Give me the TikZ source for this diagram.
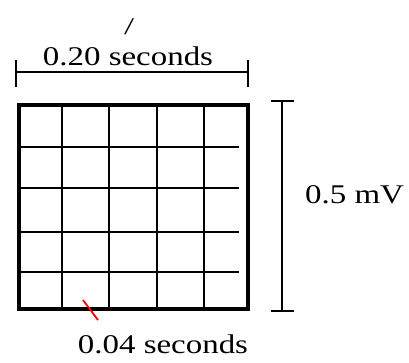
\documentclass[tikz,border=0pt]{standalone}
\usepackage{fontspec}
\setmainfont{Liberation Serif}
\newfontfamily\widefont[FakeStretch=1.22]{Liberation Serif}
\usetikzlibrary{positioning}

\begin{document}
\begin{tikzpicture}[x=1pt,y=-1pt,
    lbl/.style={inner sep=0pt,anchor=base,font=\widefont\fontsize{27}{29}\selectfont},
    thinline/.style={line width=1.8pt},
    marker/.style={red,line width=1.8pt}]
\useasboundingbox (0,0) rectangle (409,362);
% grid of small boxes
\foreach \x in {62,109,157,204}
  \draw[thinline] (\x,105) -- (\x,309);
\foreach \y in {147,188,232,272}
  \draw[thinline] (19,\y) -- (239,\y);
\draw[line width=3.6pt] (19,105) rectangle (248,309);

% time span on top
\coordinate (tl) at (16,72);
\coordinate (tr) at (248,72);
\draw[thinline] (tl) -- (tr);
\draw[thinline] (16,60) -- (16,87);
\draw[thinline] (248,60) -- (248,87);
\node[lbl] (total) at (128,65) {0.20 seconds};
\node[lbl,font=\bfseries\itshape\fontsize{24}{26}\selectfont] (mark) at (129,34) {/};

% voltage span on the right
\coordinate (vt) at (282,101);
\coordinate (vb) at (282,311);
\draw[thinline] (vt) -- (vb);
\draw[thinline] (271,101) -- (294,101);
\draw[thinline] (271,311) -- (294,311);
\node[lbl,anchor=base west] (volt) at (305,203) {0.5 mV};

% one small box
\coordinate (pt) at (83,300);
\coordinate (pe) at (98,320);
\draw[marker] (pt) -- (pe);
\node[lbl] (small) at (163,353) {0.04 seconds};
\end{tikzpicture}
\end{document}
